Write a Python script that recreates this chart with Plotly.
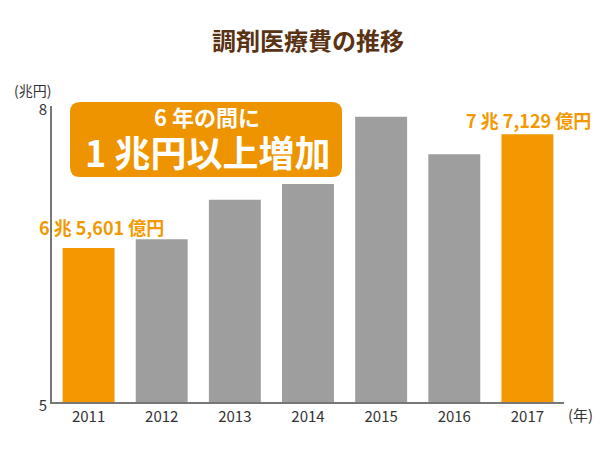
import plotly.graph_objects as go

years = ["2011", "2012", "2013", "2014", "2015", "2016", "2017"]
values = [6.5601, 6.65, 7.05, 7.21, 7.89, 7.51, 7.7129]
highlight = [True, False, False, False, False, False, True]
label_2011 = "6 兆 5,601 億円"
label_2017 = "7 兆 7,129 億円"

ORANGE = "#F39800"
GRAY = "#9E9E9E"
FONT = "Noto Sans CJK JP"

colors = [ORANGE if h else GRAY for h in highlight]

L, R, T, B = 52, 36, 106, 48
W, H = 600, 450
pw, ph = W - L - R, H - T - B

def px(x):
    return (x - L) / pw

def py(y):
    return (H - B - y) / ph

fig = go.Figure(go.Bar(x=years, y=values, marker=dict(color=colors, line=dict(width=0)),
                       hoverinfo="skip"))

# rounded box
x0, x1, y0, y1, r = 70, 342, 102, 177, 10
path = (f"M {px(x0+r)},{py(y0)} L {px(x1-r)},{py(y0)} "
        f"Q {px(x1)},{py(y0)} {px(x1)},{py(y0+r)} L {px(x1)},{py(y1-r)} "
        f"Q {px(x1)},{py(y1)} {px(x1-r)},{py(y1)} L {px(x0+r)},{py(y1)} "
        f"Q {px(x0)},{py(y1)} {px(x0)},{py(y1-r)} L {px(x0)},{py(y0+r)} "
        f"Q {px(x0)},{py(y0)} {px(x0+r)},{py(y0)} Z")
fig.add_shape(type="path", path=path, xref="paper", yref="paper",
              fillcolor="#EE9400", line=dict(width=0), layer="above")

ann = [
    dict(text="<b>6 年の間に</b>", x=px(207), y=py(116), font=dict(size=22, color="white"),
         yanchor="middle"),
    dict(text="<b>1 兆円以上増加</b>", x=px(207), y=py(151), font=dict(size=36, color="white"),
         yanchor="middle"),
    dict(text=f"<b>{label_2011}</b>", x=px(101), y=py(227), font=dict(size=18, color=ORANGE)),
    dict(text=f"<b>{label_2017}</b>", x=px(528), y=py(120), font=dict(size=18, color=ORANGE)),
    dict(text="(兆円)", x=px(32), y=py(90), font=dict(size=14, color="#333")),
    dict(text="(年)", x=px(580), y=py(414), font=dict(size=15, color="#333")),
    dict(text="<b>調剤医療費の推移</b>", x=px(308), y=py(40), font=dict(size=24, color="#5A3214")),
]
for a in ann:
    a.update(xref="paper", yref="paper", showarrow=False, xanchor="center", yanchor="middle",
             borderpad=0)
    a["font"]["family"] = FONT
    fig.add_annotation(**a)

fig.update_layout(
    width=W, height=H,
    margin=dict(l=L, r=R, t=T, b=B, autoexpand=False),
    plot_bgcolor="white", paper_bgcolor="white",
    bargap=0.29,
    showlegend=False,
    font=dict(family=FONT, color="#333"),
    xaxis=dict(showline=True, linecolor="#777", linewidth=2, ticks="", showgrid=False,
               tickfont=dict(size=15, color="#333")),
    yaxis=dict(range=[5, 8], tickvals=[5, 8], showline=True, linecolor="#777", linewidth=2,
               ticks="", showgrid=False, zeroline=False, ticklabelshift=4,
               tickfont=dict(size=15, color="#333")),
)

fig.write_html("out.html", config={"displayModeBar": False},
               post_script="document.body.style.margin='0';document.body.style.overflow='hidden';")
